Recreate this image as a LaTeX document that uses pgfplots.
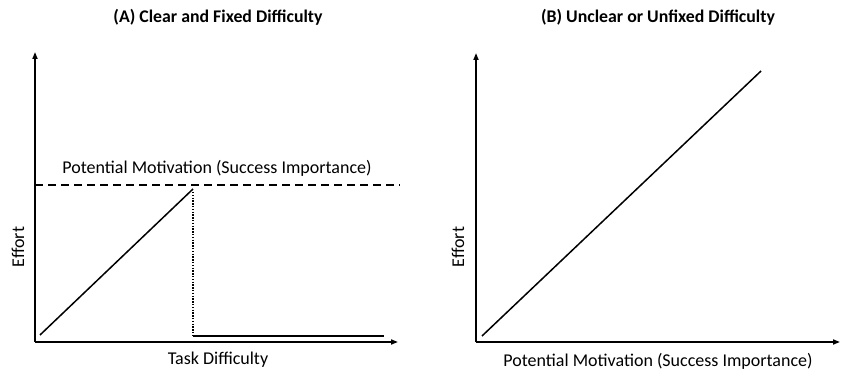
\documentclass[border=0pt]{standalone}
\usepackage{pgfplots}
\pgfplotsset{compat=1.18}
\usetikzlibrary{arrows.meta}
\usepackage{fontspec}
\setmainfont{Carlito}
\begin{document}
\begin{tikzpicture}
\useasboundingbox (0,0) rectangle (850bp,383bp);
\pgfplotsset{
  panel/.style={
    scale only axis, clip=false,
    axis x line=bottom, axis y line=left,
    axis line style={line width=1.6bp, -{Triangle[length=7bp,width=5bp]}},
    xtick=\empty, ytick=\empty,
  }
}
% Panel A
\begin{axis}[panel, anchor=south west, at={(35bp,41bp)},
  width=363bp, height=290bp, xmin=35, xmax=398, ymin=41, ymax=331]
\addplot[line width=1.5bp, black] coordinates {(40,48) (193,194)};
\addplot[line width=1.5bp, black, dash pattern=on 1.4bp off 1.4bp] coordinates {(193,191) (193,47)};
\addplot[line width=1.5bp, black] coordinates {(193,47) (384,47)};
\addplot[line width=1.6bp, black, dash pattern=on 8bp off 5bp] coordinates {(35,198) (400,198)};
\node[font=\fontsize{18bp}{21bp}\selectfont] at (axis cs:217,215) {Potential Motivation (Success Importance)};
\node[font=\fontsize{17.8bp}{21bp}\selectfont\bfseries] at (axis cs:218,366) {(A) Clear and Fixed Difficulty};
\node[font=\fontsize{18bp}{21bp}\selectfont] at (axis cs:218,23) {Task Difficulty};
\node[font=\fontsize{18bp}{21bp}\selectfont, rotate=90] at (axis cs:18,136) {Effort};
\end{axis}
% Panel B
\begin{axis}[panel, anchor=south west, at={(476bp,41bp)},
  width=364bp, height=289bp, xmin=476, xmax=840, ymin=41, ymax=330]
\addplot[line width=1.5bp, black] coordinates {(482,47) (761,312)};
\node[font=\fontsize{17.8bp}{21bp}\selectfont\bfseries] at (axis cs:658,366) {(B) Unclear or Unfixed Difficulty};
\node[font=\fontsize{18bp}{21bp}\selectfont] at (axis cs:658,22) {Potential Motivation (Success Importance)};
\node[font=\fontsize{18bp}{21bp}\selectfont, rotate=90] at (axis cs:458,136) {Effort};
\end{axis}
\end{tikzpicture}
\end{document}
